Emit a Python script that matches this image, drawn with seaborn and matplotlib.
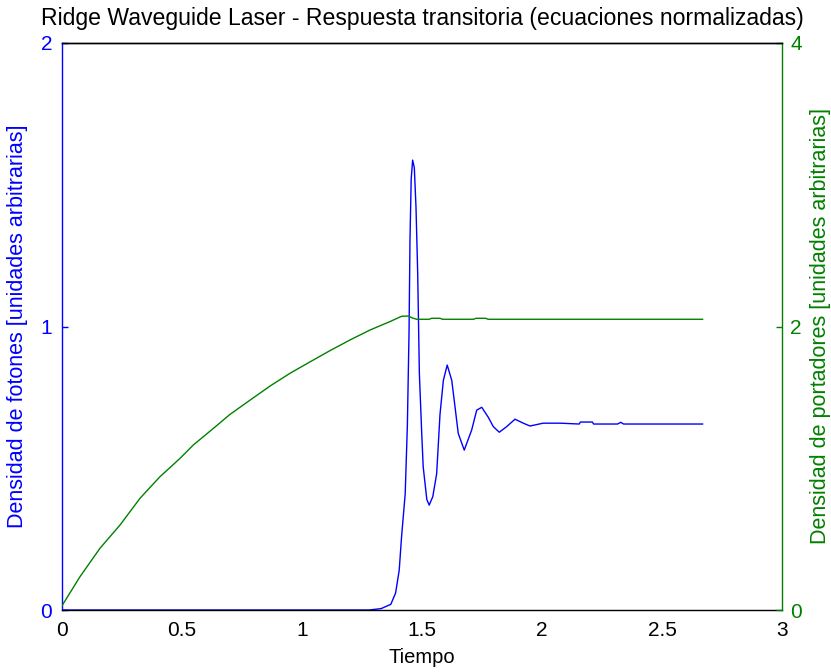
import matplotlib
matplotlib.use("Agg")
import matplotlib.pyplot as plt
import seaborn as sns
import pandas as pd

# Photon density (left axis), normalized units
t_fotones = [0.0, 1.0, 1.28, 1.33, 1.37, 1.39, 1.405, 1.415, 1.43, 1.439, 1.446,
             1.45, 1.455, 1.461, 1.468, 1.475, 1.482, 1.489, 1.499, 1.505, 1.52,
             1.53, 1.545, 1.561, 1.575, 1.589, 1.605, 1.624, 1.6375, 1.651,
             1.676, 1.707, 1.728, 1.749, 1.776, 1.797, 1.822, 1.853, 1.8875,
             1.922, 1.95, 2.005, 2.075, 2.155, 2.16, 2.21, 2.215, 2.315, 2.328,
             2.34, 2.67]
fotones = [0.0, 0.0, 0.0, 0.005, 0.02, 0.06, 0.14, 0.26, 0.41, 0.65, 0.98,
           1.31, 1.52, 1.587, 1.56, 1.42, 1.19, 0.835, 0.62, 0.505, 0.39,
           0.37, 0.40, 0.48, 0.69, 0.81, 0.864, 0.81, 0.717, 0.623,
           0.564, 0.635, 0.705, 0.715, 0.68, 0.647, 0.627, 0.647, 0.673,
           0.659, 0.649, 0.659, 0.659, 0.656, 0.663, 0.663, 0.656, 0.656, 0.662,
           0.656, 0.656]

# Carrier density (right axis), normalized units
t_portadores = [0.0, 0.075, 0.158, 0.242, 0.325, 0.408, 0.492, 0.547, 0.63,
                0.7, 0.783, 0.867, 0.95, 1.033, 1.117, 1.2, 1.283, 1.367,
                1.415, 1.443, 1.46, 1.478, 1.53, 1.54, 1.575, 1.585, 1.715,
                1.725, 1.765, 1.775, 2.67]
portadores = [0.03, 0.235, 0.435, 0.60, 0.788, 0.94, 1.07, 1.164, 1.28,
              1.38, 1.48, 1.58, 1.67, 1.75, 1.83, 1.905, 1.975, 2.035,
              2.072, 2.074, 2.06, 2.051, 2.051, 2.058, 2.058, 2.051, 2.051,
              2.058, 2.058, 2.051, 2.051]

x_ticks = [0, 0.5, 1, 1.5, 2, 2.5, 3]
x_ticklabels = ["0", "0.5", "1", "1.5", "2", "2.5", "3"]
left_ticks = [0, 1, 2]
right_ticks = [0, 2, 4]

titulo = "Ridge Waveguide Laser - Respuesta transitoria (ecuaciones normalizadas)"
xlabel = "Tiempo"
ylabel_izq = "Densidad de fotones [unidades arbitrarias]"
ylabel_der = "Densidad de portadores [unidades arbitrarias]"

sns.set_style("white")
plt.rcParams["font.family"] = ["Liberation Sans", "DejaVu Sans"]

AZUL = "#0000ff"
VERDE = "#008000"
FS_TICK = 15
FS_XLABEL = 14.5
FS_YLABEL = 15.5
FS_TITLE = 16.6

df_f = pd.DataFrame({"t": t_fotones, "v": fotones})
df_p = pd.DataFrame({"t": t_portadores, "v": portadores})

fig = plt.figure(figsize=(8.31, 6.72), dpi=100)
ax = fig.add_axes([62 / 831, 62 / 672, 720 / 831, 567 / 672])
ax2 = ax.twinx()

sns.lineplot(data=df_f, x="t", y="v", ax=ax, color=AZUL, linewidth=1.0,
             estimator=None, sort=False)
sns.lineplot(data=df_p, x="t", y="v", ax=ax2, color=VERDE, linewidth=1.0,
             estimator=None, sort=False)

ax.set_xlim(0, 3)
ax.set_ylim(0, 2)
ax2.set_ylim(0, 4)

ax.set_xticks(x_ticks)
ax.set_xticklabels(x_ticklabels)
ax.set_yticks(left_ticks)
ax.set_yticklabels([str(v) for v in left_ticks])
ax2.set_yticks(right_ticks)
ax2.set_yticklabels([str(v) for v in right_ticks])

ax.tick_params(axis="x", direction="in", length=4, width=1, colors="black",
               labelsize=FS_TICK, pad=8, top=False)
ax.tick_params(axis="y", direction="in", length=4, width=1, colors=AZUL,
               labelsize=FS_TICK, pad=7)
ax2.tick_params(axis="y", direction="in", length=4, width=1, colors=VERDE,
                labelsize=FS_TICK, pad=6)

for a in (ax, ax2):
    for s in a.spines.values():
        s.set_linewidth(1.0)
        s.set_color("black")
ax.spines["left"].set_color(AZUL)
ax2.spines["left"].set_visible(False)
ax2.spines["right"].set_color(VERDE)
ax.spines["right"].set_visible(False)
ax2.spines["bottom"].set_visible(False)

ax.set_xlabel(xlabel, fontsize=FS_XLABEL, color="black", labelpad=6)
ax.set_ylabel(ylabel_izq, fontsize=FS_YLABEL, color=AZUL, labelpad=9)
ax2.set_ylabel(ylabel_der, fontsize=FS_YLABEL, color=VERDE, labelpad=6)
ax.set_title(titulo, fontsize=FS_TITLE, color="black", pad=13)

fig.savefig("out.png", dpi=100)
